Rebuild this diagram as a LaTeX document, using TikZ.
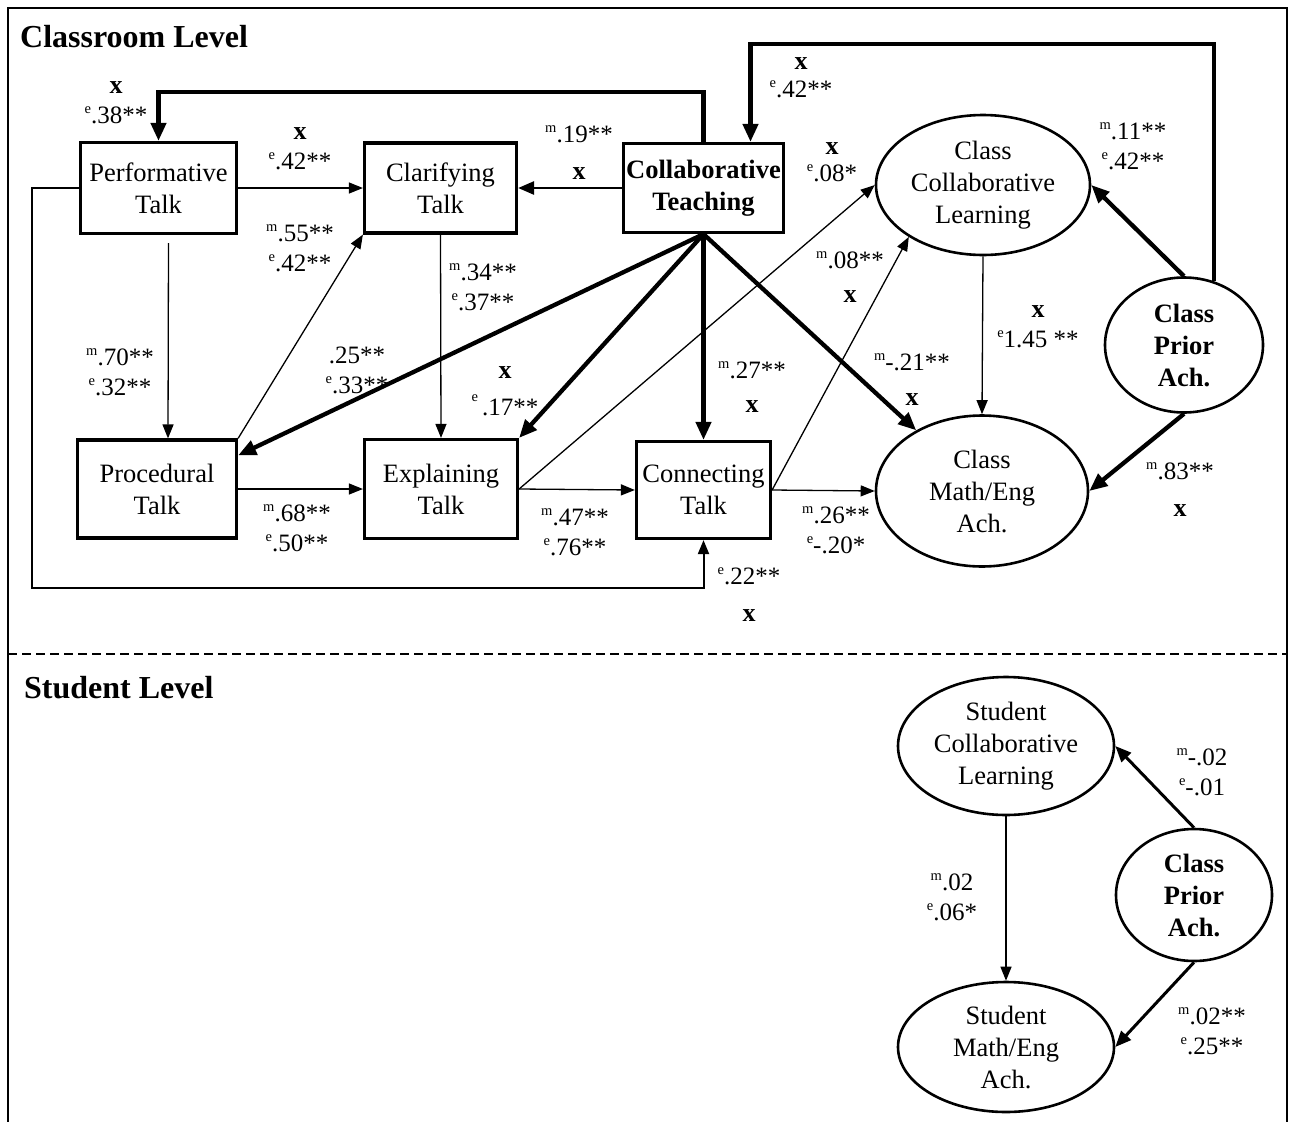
\documentclass[tikz,border=0pt]{standalone}
\usepackage{fontspec}
\setmainfont{Liberation Serif}
\usetikzlibrary{arrows.meta,shapes.geometric,calc}
\newcommand\supM{\raisebox{10pt}{\fontsize{14.5}{14}\selectfont m}}
\newcommand\supE{\raisebox{10pt}{\fontsize{14.5}{14}\selectfont e}}
\newcommand\bx{{\fontsize{26}{30}\selectfont\textbf{x}}}
\begin{document}
\begin{tikzpicture}[x=1pt,y=-1pt,
  box/.style={draw, line width=3.2pt, inner sep=0pt, align=center, font=\fontsize{26.5}{32}\selectfont},
  ell/.style={draw, ellipse, line width=2.6pt, inner sep=0pt, align=center, font=\fontsize{26.5}{32}\selectfont},
  lbl/.style={align=center, inner sep=0pt, font=\fontsize{25}{30}\selectfont},
  ttl/.style={anchor=west, inner sep=0pt, font=\bfseries\fontsize{32}{34}\selectfont},
  athin/.style={line width=1.3pt, -{Triangle[length=14pt,width=11pt]}},
  amid/.style={line width=2.6pt, -{Triangle[length=16pt,width=13pt]}},
  athick/.style={line width=4.3pt, -{Triangle[length=18pt,width=15pt]}}]
\fill[white] (0,0) rectangle (1291,1122);
\useasboundingbox (0,0) rectangle (1291,1122);
% frame
\draw[line width=2pt] (8,1122) -- (8,8) -- (1287,8) -- (1287,1122);
\draw[line width=2pt, dash pattern=on 9pt off 5pt] (8,654) -- (1287,654);
\node[ttl] (t1) at (20,37) {Classroom Level};
\node[ttl] (t2) at (24,688) {Student Level};
% boxes
\node[box, minimum width=156pt, minimum height=91pt] (perf) at (158.5,188) {Performative\\Talk};
\node[box, minimum width=152pt, minimum height=90pt] (clar) at (440.5,188) {Clarifying\\Talk};
\node[box, minimum width=160pt, minimum height=89pt, font=\bfseries\fontsize{26.5}{32}\selectfont] (ct) at (703.5,188) {Collaborative\\Teaching};
\node[box, minimum width=159pt, minimum height=98pt] (proc) at (157,489) {Procedural\\Talk};
\node[box, minimum width=153pt, minimum height=99pt] (expl) at (441,489) {Explaining\\Talk};
\node[box, minimum width=134pt, minimum height=97pt] (conn) at (703.5,490) {Connecting\\Talk};
% ellipses
\node[ell, minimum width=214pt, minimum height=140pt] (ccl) at (983,185) {Class\\Collaborative\\Learning};
\node[ell, minimum width=212pt, minimum height=151pt] (cma) at (982,491) {Class\\Math/Eng\\Ach.};
\node[ell, minimum width=158pt, minimum height=135pt, font=\bfseries\fontsize{26.5}{32}\selectfont] (cpa) at (1184,345) {Class\\Prior\\Ach.};
\node[ell, minimum width=216pt, minimum height=138pt] (scl) at (1006,746) {Student\\Collaborative\\Learning};
\node[ell, minimum width=216pt, minimum height=130pt] (sma) at (1006,1047) {Student\\Math/Eng\\Ach.};
\node[ell, minimum width=156pt, minimum height=132pt, font=\bfseries\fontsize{26.5}{32}\selectfont] (spa) at (1194,895) {Class\\Prior\\Ach.};
% connectors
\draw[athick] (ct.north) -- ++(0,-50) -| (perf.north);
\coordinate (topR) at (1213,44);
\draw[athick] (cpa.65) -- (cpa.65 |- topR) -| ([xshift=47pt]ct.north);
\draw[athin] (perf.east) -- (clar.west);
\draw[amid] (ct.west) -- (clar.east);
\coordinate (botL) at (32,588);
\draw[line width=2pt, -{Triangle[length=14pt,width=11pt]}] (perf.west) -| (botL) -| (conn.south);
\draw[athin] ($(perf.south)+(10,8)$) -- ($(proc.north)+(11,0)$);
\draw[athin] (clar.south) -- (expl.north);
\draw[athin] (proc.north east) -- (clar.south west);
\draw[athin] (proc.east) -- (expl.west);
\draw[athin] (expl.east) -- (conn.west);
\draw[athin] (conn.east) -- (cma.west);
\draw[athick] (ct.south) -- ([yshift=-17pt]proc.north east);
\draw[athick] (ct.south) -- (expl.north east);
\draw[athick] (ct.south) -- (conn.north);
\draw[athick] (ct.south) -- (cma);
\draw[athin] (expl.east) -- (ccl.west);
\draw[athin] (conn.east) -- (ccl.215);
\draw[athin] (ccl.south) -- (cma.north);
\draw[athick] (cpa.north) -- (ccl.east);
\draw[athick] (cpa.south) -- (cma.east);
\draw[athin] (scl.south) -- (sma.north);
\draw[line width=3pt, -{Triangle[length=16pt,width=13pt]}] (spa.north) -- (scl.east);
\draw[line width=3pt, -{Triangle[length=16pt,width=13pt]}] (spa.south) -- (sma.east);
% labels
\node[lbl] (l1) at (116,103) {\bx\\\supE.38**};
\node[lbl] (l2) at (801,78) {\bx\\[-2pt]\supE.42**};
\node[lbl] (l3) at (300,149) {\bx\\\supE.42**};
\node[lbl] (l4) at (579,153) {\supM.19**\\[7pt]\bx};
\node[lbl] (l5) at (749,595) {\supE.22**\\[7pt]\bx};
\node[lbl] (l6) at (120,372) {\supM.70**\\\supE.32**};
\node[lbl] (l7) at (483,287) {\supM.34**\\\supE.37**};
\node[lbl] (l8) at (300,248) {\supM.55**\\\supE.42**};
\node[lbl] (l9) at (297,528) {\supM.68**\\\supE.50**};
\node[lbl] (l10) at (575,532) {\supM.47**\\\supE.76**};
\node[lbl] (l11) at (836,530) {\supM.26**\\\supE-.20*};
\node[lbl] (l12) at (357,370) {.25**\\\supE.33**};
\node[lbl] (l13) at (505,391) {\bx\\[7pt]\raisebox{4pt}{\supE}\,.17**};
\node[lbl] (l14) at (752,387) {\supM.27**\\[4pt]\bx};
\node[lbl] (l15) at (912,380) {\supM-.21**\\[5pt]\bx};
\node[lbl] (l16) at (832,162) {\bx\\[-3pt]\supE.08*};
\node[lbl] (l17) at (850,277) {\supM.08**\\[4pt]\bx};
\node[lbl] (l18) at (1038,327) {\bx\\\supE1.45 **};
\node[lbl] (l19) at (1133,146) {\supM.11**\\\supE.42**};
\node[lbl] (l20) at (1180,490) {\supM.83**\\[7pt]\bx};
\node[lbl] (l21) at (952,897) {\supM.02\\\supE.06*};
\node[lbl] (l22) at (1202,772) {\supM-.02\\\supE-.01};
\node[lbl] (l23) at (1212,1031) {\supM.02**\\\supE.25**};
\end{tikzpicture}
\end{document}
